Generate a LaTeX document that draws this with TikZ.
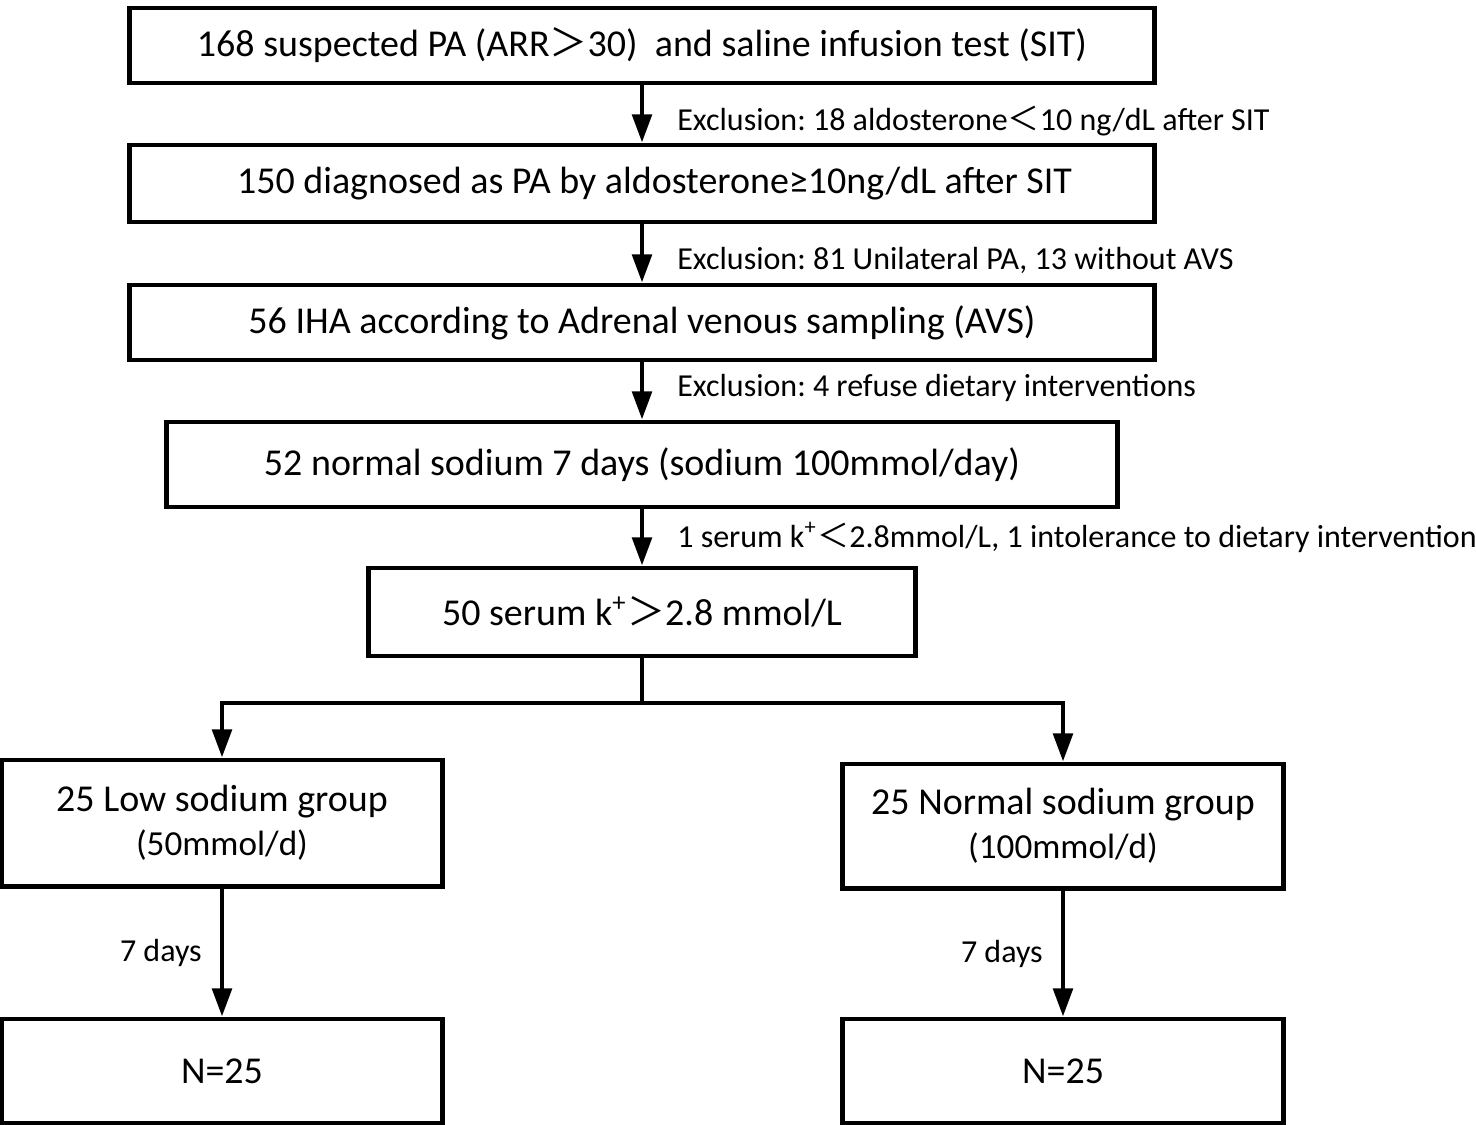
\documentclass[tikz,border=0pt]{standalone}
\usepackage{fontspec}
\setmainfont{Carlito}
\newfontfamily\cjk{Noto Sans CJK SC}
\frenchspacing
\usetikzlibrary{arrows.meta}
\usetikzlibrary{positioning}
\tikzstyle{stagebox}=[rectangle,draw=black,line width=1.4pt,fill=white,inner sep=2pt,align=center,font=\fontsize{10.8}{12.6}\selectfont]
\tikzstyle{edge} = [draw,line width=1.3pt,-{Triangle[length=8pt,width=5.5pt]}]
\tikzstyle{undirectededge} = [draw,line width=1.3pt]
\tikzstyle{weight} = [font=\fontsize{9.1}{11}\selectfont,inner sep=0pt]

\begin{document}
\begin{tikzpicture}[x=0.01cm,y=-0.01cm]
\useasboundingbox (0,0) rectangle (1476,1125);

    % main column
    \foreach \pos/\name/\w/\h/\txt in {
        {(642,45.5)/suspected/10.25/0.75/{168 suspected PA (ARR{\cjk ＞}30)\ \ and saline infusion test (SIT)}},
        {(642,183.5)/diagnosed/10.25/0.77/{\hspace*{0.25cm}150 diagnosed as PA by aldosterone≥10ng/dL after SIT}},
        {(642,322.5)/iha/10.25/0.75/{56 IHA according to Adrenal venous sampling (AVS)}},
        {(642,464.5)/normalweek/9.5/0.85/{52 normal sodium 7 days (sodium 100mmol/day)}},
        {(642,612)/serum/5.46/0.88/{50 serum k\textsuperscript{+}{\cjk ＞}2.8 mmol/L}}}
            \node[stagebox,minimum width=\w cm,minimum height=\h cm] (\name) at \pos {\txt};

    % two groups
    \foreach \pos/\name/\h/\txt in {
        {(222,823)/low/1.26/{25 Low sodium group\\{\fontsize{10}{12}\selectfont(50mmol/d)}}},
        {(1063,826)/normal/1.24/{25 Normal sodium group\\{\fontsize{10}{12}\selectfont(100mmol/d)}}},
        {(222,1071)/lowend/1.04/{N=25}},
        {(1063,1071)/normalend/1.04/{N=25}}}
            \node[stagebox,minimum width=4.4cm,minimum height=\h cm] (\name) at \pos {\txt};

    \foreach \source/\dest/\dy/\weight in {
        suspected/diagnosed/0.07/{Exclusion: 18 aldosterone{\cjk ＜}10 ng/dL after SIT},
        diagnosed/iha/0.07/{Exclusion: 81 Unilateral PA, 13 without AVS},
        iha/normalweek/-0.03/{Exclusion: 4 refuse dietary interventions},
        normalweek/serum/0/{1 serum k\textsuperscript{+}{\cjk ＜}2.8mmol/L, 1 intolerance to dietary intervention}}
        \path[edge] (\source) -- node[weight,right,xshift=0.33cm,yshift=-\dy cm] {\weight} (\dest);

    \coordinate (split) at (642,703);
    \path[undirectededge] (serum) -- (split);
    \path[edge] (split) -| (low);
    \path[edge] (split) -| (normal);

    \foreach \source/\dest in {low/lowend, normal/normalend}
        \path[edge] (\source) -- node[weight,left,xshift=-0.18cm] {7 days} (\dest);

\end{tikzpicture}
\end{document}
